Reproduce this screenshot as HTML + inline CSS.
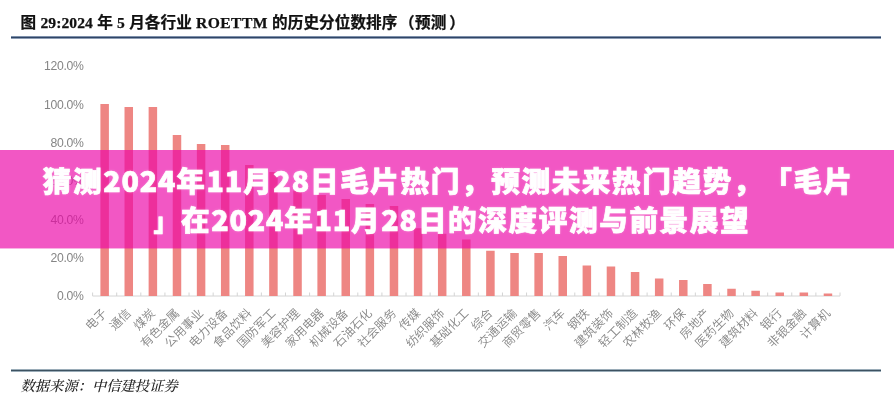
<!DOCTYPE html>
<html lang="zh-CN"><head><meta charset="utf-8"><title>猜测2024年11月28日毛片热门</title>
<style>
html,body{margin:0;padding:0;background:#fff;}
body{width:894px;height:400px;position:relative;overflow:hidden;font-family:"Liberation Sans","Noto Sans CJK SC",sans-serif;}
.title{position:absolute;left:20.5px;top:10.6px;-webkit-text-stroke:0.25px #111;font-family:"Liberation Serif","Noto Sans CJK SC",serif;font-weight:bold;font-size:15.6px;line-height:24px;color:#111;white-space:nowrap;word-spacing:0.25px;letter-spacing:0.08px;}
.title .lat{letter-spacing:0.4px;}.title .b1{margin-left:1.5px;}.title .b2{margin-left:0.4px;}.title .b3{margin-left:2.8px;}
.rule{position:absolute;left:11px;width:870px;height:3px;}
.r1{top:36px;background:linear-gradient(to bottom,#7d90ab 0,#7d90ab 1px,#2f4566 1px,#2f4566 2px,#8c9cb4 2px,#8c9cb4 3px);}
.r2{top:369px;background:linear-gradient(to bottom,#9aacb8 0,#9aacb8 1px,#3d5261 1px,#3d5261 2px,#9aacb8 2px,#9aacb8 3px);}
.src{position:absolute;left:20.5px;top:375.5px;font-family:"Liberation Serif","Noto Serif CJK SC",serif;font-style:italic;font-weight:500;font-size:14.3px;line-height:20px;color:#222;white-space:nowrap;}
svg{position:absolute;left:0;top:0;filter:blur(0.3px);}
.xl{font-size:12.1px;font-weight:350;fill:#868686;font-family:"Liberation Sans","Noto Sans CJK SC",sans-serif;}
.yl{font-size:12.2px;letter-spacing:-0.3px;fill:#858585;font-family:"Liberation Sans","Noto Sans CJK SC",sans-serif;}
.ov{position:absolute;left:0;top:150px;width:894px;height:98px;background:rgba(236,4,167,0.67);}
.ovt{position:absolute;left:0;top:150px;width:894px;height:98px;text-align:center;color:#fff;font-family:"Noto Sans CJK SC","Liberation Sans",sans-serif;font-weight:900;font-size:28.6px;letter-spacing:1.62px;-webkit-text-stroke:0.7px #fff;line-height:39px;white-space:nowrap;text-spacing-trim:space-all;padding-top:10.4px;box-sizing:border-box;text-shadow:0 0 3px rgba(255,255,255,0.35);}
.ovt .d{letter-spacing:0.87px;}.ovt .l1{position:relative;left:1.3px;}.ovt .l2{position:relative;left:3.5px;}
.ovt .q{display:inline-block;transform:translateX(-1.4px) scale(0.84,0.9);transform-origin:82% 88%;}
.ov2{position:absolute;left:0;top:248px;width:894px;height:1px;background:rgba(236,4,167,0.3);}
.ovt .ib{display:inline-block;}
</style></head><body>
<div class="title">图 29:2024 年 5 月各行业 <span class="lat">ROETTM</span> 的历史分位数排序<span class="b1">（</span><span class="b2">预测</span><span class="b3">）</span></div>
<div class="rule r1"></div>
<svg width="894" height="400" viewBox="0 0 894 400">
<line x1="92.6" y1="296" x2="840" y2="296" stroke="#d4d4d4" stroke-width="1"/>
<line x1="92.60" y1="292.5" x2="92.60" y2="296" stroke="#d4d4d4" stroke-width="1"/>
<line x1="116.71" y1="292.5" x2="116.71" y2="296" stroke="#d4d4d4" stroke-width="1"/>
<line x1="140.82" y1="292.5" x2="140.82" y2="296" stroke="#d4d4d4" stroke-width="1"/>
<line x1="164.93" y1="292.5" x2="164.93" y2="296" stroke="#d4d4d4" stroke-width="1"/>
<line x1="189.04" y1="292.5" x2="189.04" y2="296" stroke="#d4d4d4" stroke-width="1"/>
<line x1="213.15" y1="292.5" x2="213.15" y2="296" stroke="#d4d4d4" stroke-width="1"/>
<line x1="237.26" y1="292.5" x2="237.26" y2="296" stroke="#d4d4d4" stroke-width="1"/>
<line x1="261.37" y1="292.5" x2="261.37" y2="296" stroke="#d4d4d4" stroke-width="1"/>
<line x1="285.48" y1="292.5" x2="285.48" y2="296" stroke="#d4d4d4" stroke-width="1"/>
<line x1="309.59" y1="292.5" x2="309.59" y2="296" stroke="#d4d4d4" stroke-width="1"/>
<line x1="333.70" y1="292.5" x2="333.70" y2="296" stroke="#d4d4d4" stroke-width="1"/>
<line x1="357.81" y1="292.5" x2="357.81" y2="296" stroke="#d4d4d4" stroke-width="1"/>
<line x1="381.92" y1="292.5" x2="381.92" y2="296" stroke="#d4d4d4" stroke-width="1"/>
<line x1="406.03" y1="292.5" x2="406.03" y2="296" stroke="#d4d4d4" stroke-width="1"/>
<line x1="430.14" y1="292.5" x2="430.14" y2="296" stroke="#d4d4d4" stroke-width="1"/>
<line x1="454.25" y1="292.5" x2="454.25" y2="296" stroke="#d4d4d4" stroke-width="1"/>
<line x1="478.35" y1="292.5" x2="478.35" y2="296" stroke="#d4d4d4" stroke-width="1"/>
<line x1="502.46" y1="292.5" x2="502.46" y2="296" stroke="#d4d4d4" stroke-width="1"/>
<line x1="526.57" y1="292.5" x2="526.57" y2="296" stroke="#d4d4d4" stroke-width="1"/>
<line x1="550.68" y1="292.5" x2="550.68" y2="296" stroke="#d4d4d4" stroke-width="1"/>
<line x1="574.79" y1="292.5" x2="574.79" y2="296" stroke="#d4d4d4" stroke-width="1"/>
<line x1="598.90" y1="292.5" x2="598.90" y2="296" stroke="#d4d4d4" stroke-width="1"/>
<line x1="623.01" y1="292.5" x2="623.01" y2="296" stroke="#d4d4d4" stroke-width="1"/>
<line x1="647.12" y1="292.5" x2="647.12" y2="296" stroke="#d4d4d4" stroke-width="1"/>
<line x1="671.23" y1="292.5" x2="671.23" y2="296" stroke="#d4d4d4" stroke-width="1"/>
<line x1="695.34" y1="292.5" x2="695.34" y2="296" stroke="#d4d4d4" stroke-width="1"/>
<line x1="719.45" y1="292.5" x2="719.45" y2="296" stroke="#d4d4d4" stroke-width="1"/>
<line x1="743.56" y1="292.5" x2="743.56" y2="296" stroke="#d4d4d4" stroke-width="1"/>
<line x1="767.67" y1="292.5" x2="767.67" y2="296" stroke="#d4d4d4" stroke-width="1"/>
<line x1="791.78" y1="292.5" x2="791.78" y2="296" stroke="#d4d4d4" stroke-width="1"/>
<line x1="815.89" y1="292.5" x2="815.89" y2="296" stroke="#d4d4d4" stroke-width="1"/>
<line x1="840.00" y1="292.5" x2="840.00" y2="296" stroke="#d4d4d4" stroke-width="1"/>
<rect x="100.40" y="104" width="8.5" height="192.00" fill="#ee8683"/>
<rect x="124.51" y="107" width="8.5" height="189.00" fill="#ee8683"/>
<rect x="148.62" y="107" width="8.5" height="189.00" fill="#ee8683"/>
<rect x="172.73" y="135" width="8.5" height="161.00" fill="#ee8683"/>
<rect x="196.84" y="144" width="8.5" height="152.00" fill="#ee8683"/>
<rect x="220.95" y="145" width="8.5" height="151.00" fill="#ee8683"/>
<rect x="245.06" y="165" width="8.5" height="131.00" fill="#ee8683"/>
<rect x="269.17" y="172" width="8.5" height="124.00" fill="#ee8683"/>
<rect x="293.28" y="190.5" width="8.5" height="105.50" fill="#ee8683"/>
<rect x="317.39" y="195" width="8.5" height="101.00" fill="#ee8683"/>
<rect x="341.50" y="199" width="8.5" height="97.00" fill="#ee8683"/>
<rect x="365.61" y="204" width="8.5" height="92.00" fill="#ee8683"/>
<rect x="389.72" y="206" width="8.5" height="90.00" fill="#ee8683"/>
<rect x="413.83" y="228.2" width="8.5" height="67.80" fill="#ee8683"/>
<rect x="437.94" y="233.75" width="8.5" height="62.25" fill="#ee8683"/>
<rect x="462.05" y="239.5" width="8.5" height="56.50" fill="#ee8683"/>
<rect x="486.16" y="250.75" width="8.5" height="45.25" fill="#ee8683"/>
<rect x="510.27" y="253" width="8.5" height="43.00" fill="#ee8683"/>
<rect x="534.38" y="253" width="8.5" height="43.00" fill="#ee8683"/>
<rect x="558.49" y="256" width="8.5" height="40.00" fill="#ee8683"/>
<rect x="582.60" y="265.5" width="8.5" height="30.50" fill="#ee8683"/>
<rect x="606.71" y="266.5" width="8.5" height="29.50" fill="#ee8683"/>
<rect x="630.82" y="272" width="8.5" height="24.00" fill="#ee8683"/>
<rect x="654.93" y="278.5" width="8.5" height="17.50" fill="#ee8683"/>
<rect x="679.04" y="280" width="8.5" height="16.00" fill="#ee8683"/>
<rect x="703.15" y="284" width="8.5" height="12.00" fill="#ee8683"/>
<rect x="727.26" y="288.75" width="8.5" height="7.25" fill="#ee8683"/>
<rect x="751.37" y="290.75" width="8.5" height="5.25" fill="#ee8683"/>
<rect x="775.48" y="292.5" width="8.5" height="3.50" fill="#ee8683"/>
<rect x="799.59" y="292.5" width="8.5" height="3.50" fill="#ee8683"/>
<rect x="823.70" y="293.5" width="8.5" height="2.50" fill="#ee8683"/>
<text class="xl" text-anchor="end" transform="translate(107.65,314) rotate(-45)">电子</text>
<text class="xl" text-anchor="end" transform="translate(131.76,314) rotate(-45)">通信</text>
<text class="xl" text-anchor="end" transform="translate(155.87,314) rotate(-45)">煤炭</text>
<text class="xl" text-anchor="end" transform="translate(179.98,314) rotate(-45)">有色金属</text>
<text class="xl" text-anchor="end" transform="translate(204.09,314) rotate(-45)">公用事业</text>
<text class="xl" text-anchor="end" transform="translate(228.20,314) rotate(-45)">电力设备</text>
<text class="xl" text-anchor="end" transform="translate(252.31,314) rotate(-45)">食品饮料</text>
<text class="xl" text-anchor="end" transform="translate(276.42,314) rotate(-45)">国防军工</text>
<text class="xl" text-anchor="end" transform="translate(300.53,314) rotate(-45)">美容护理</text>
<text class="xl" text-anchor="end" transform="translate(324.64,314) rotate(-45)">家用电器</text>
<text class="xl" text-anchor="end" transform="translate(348.75,314) rotate(-45)">机械设备</text>
<text class="xl" text-anchor="end" transform="translate(372.86,314) rotate(-45)">石油石化</text>
<text class="xl" text-anchor="end" transform="translate(396.97,314) rotate(-45)">社会服务</text>
<text class="xl" text-anchor="end" transform="translate(421.08,314) rotate(-45)">传媒</text>
<text class="xl" text-anchor="end" transform="translate(445.19,314) rotate(-45)">纺织服饰</text>
<text class="xl" text-anchor="end" transform="translate(469.30,314) rotate(-45)">基础化工</text>
<text class="xl" text-anchor="end" transform="translate(493.41,314) rotate(-45)">综合</text>
<text class="xl" text-anchor="end" transform="translate(517.52,314) rotate(-45)">交通运输</text>
<text class="xl" text-anchor="end" transform="translate(541.63,314) rotate(-45)">商贸零售</text>
<text class="xl" text-anchor="end" transform="translate(565.74,314) rotate(-45)">汽车</text>
<text class="xl" text-anchor="end" transform="translate(589.85,314) rotate(-45)">钢铁</text>
<text class="xl" text-anchor="end" transform="translate(613.96,314) rotate(-45)">建筑装饰</text>
<text class="xl" text-anchor="end" transform="translate(638.07,314) rotate(-45)">轻工制造</text>
<text class="xl" text-anchor="end" transform="translate(662.18,314) rotate(-45)">农林牧渔</text>
<text class="xl" text-anchor="end" transform="translate(686.29,314) rotate(-45)">环保</text>
<text class="xl" text-anchor="end" transform="translate(710.40,314) rotate(-45)">房地产</text>
<text class="xl" text-anchor="end" transform="translate(734.51,314) rotate(-45)">医药生物</text>
<text class="xl" text-anchor="end" transform="translate(758.62,314) rotate(-45)">建筑材料</text>
<text class="xl" text-anchor="end" transform="translate(782.73,314) rotate(-45)">银行</text>
<text class="xl" text-anchor="end" transform="translate(806.84,314) rotate(-45)">非银金融</text>
<text class="xl" text-anchor="end" transform="translate(830.95,314) rotate(-45)">计算机</text>
<text class="yl" text-anchor="end" x="83.6" y="70.30">120.0%</text>
<text class="yl" text-anchor="end" x="83.6" y="108.60">100.0%</text>
<text class="yl" text-anchor="end" x="83.6" y="146.90">80.0%</text>
<text class="yl" text-anchor="end" x="83.6" y="185.20">60.0%</text>
<text class="yl" text-anchor="end" x="83.6" y="223.50">40.0%</text>
<text class="yl" text-anchor="end" x="83.6" y="261.80">20.0%</text>
<text class="yl" text-anchor="end" x="83.6" y="300.10">0.0%</text>
</svg>
<div class="rule r2"></div>
<div class="src">数据来源：中信建投证券</div>
<div class="ov"></div><div class="ov2"></div>
<div class="ovt"><span class="l1">猜测<span class="d">2024</span>年<span class="d">11</span>月<span class="d">28</span>日毛片热门，预测未来热门趋势，<span class="ib">「</span>毛片</span><br><span class="l2"><span class="q">」</span>在<span class="d">2024</span>年<span class="d">11</span>月<span class="d">28</span>日的深度评测与前景展望</span></div>
</body></html>
